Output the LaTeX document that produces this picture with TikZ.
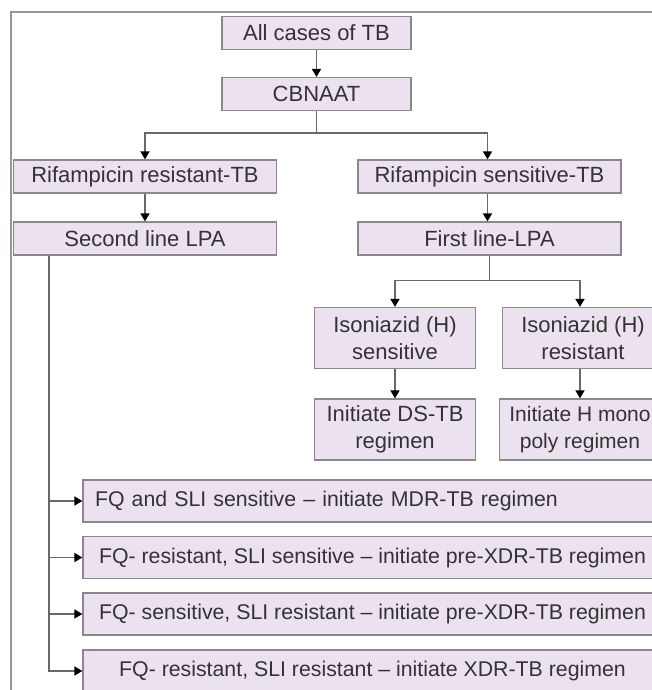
\documentclass[tikz,border=0pt]{standalone}
\usepackage{fontspec}
\setmainfont{Liberation Sans}
\usetikzlibrary{arrows.meta,positioning}
\definecolor{boxfill}{RGB}{236,225,239}
\definecolor{boxline}{RGB}{140,134,142}
\definecolor{wirecol}{RGB}{105,105,105}
\definecolor{framecol}{RGB}{150,150,150}

\begin{document}
\begin{tikzpicture}[x=1pt,y=-1pt,
		box/.style={draw=boxline, line width=1.2pt, fill=boxfill, inner sep=0pt,
			align=center, text=black!80, font=\fontsize{22}{27}\selectfont},
		topbox/.style={box, minimum width=189pt, minimum height=33pt},
		halfbox/.style={box, minimum width=263pt, minimum height=33pt},
		smallbox/.style={box, minimum width=161pt, minimum height=61pt},
		regbox/.style={box, minimum width=579pt, minimum height=42pt, font=\fontsize{21.3}{26}\selectfont},
		wire/.style={draw=wirecol, line width=1.6pt},
		arr/.style={wire, -{Triangle[width=9pt,length=8pt,color=black]}}]
		\useasboundingbox (0,0) rectangle (652,690);
		\clip (0,0) rectangle (652,690);
		% outer frame
		\draw[framecol, line width=1.2pt] (11,695) -- (11,12) -- (660,12);
		% test and first split
		\node[topbox] (all) at (316.5,33) {All cases of TB};
		\node[topbox] (cbnaat) at (316.5,94) {CBNAAT};
		\node[halfbox] (rres) at (145,176.5) {Rifampicin resistant-TB};
		\node[halfbox] (rsen) at (489.5,176.5) {Rifampicin sensitive-TB};
		\node[halfbox] (lpa2) at (145,238.5) {Second line LPA};
		\node[halfbox] (lpa1) at (489.5,238.5) {First line-LPA};
		% isoniazid branch
		\node[smallbox] (ihs) at (395,338) {Isoniazid (H)\\sensitive};
		\node[smallbox] (ihr) at (583,338) {Isoniazid (H)\\resistant};
		\node[smallbox] (dstb) at (395,429.5) {Initiate DS-TB\\regimen};
		\node[smallbox, font=\fontsize{21}{27}\selectfont] (hmono) at (580,429.5) {Initiate H mono\\poly regimen};
		% second line LPA outcomes
		\node[regbox, text width=555pt, inner xsep=12pt, align=left] (fq1) at (372.5,501) {FQ and SLI sensitive -- initiate MDR-TB regimen};
		\node[regbox] (fq2) at (372.5,557.5) {FQ- resistant, SLI sensitive -- initiate pre-XDR-TB regimen};
		\node[regbox] (fq3) at (372.5,614) {FQ- sensitive, SLI resistant -- initiate pre-XDR-TB regimen};
		\node[regbox] (fq4) at (372.5,671) {FQ- resistant, SLI resistant -- initiate XDR-TB regimen};

		\draw[arr] (all) -- (cbnaat);
		\coordinate (split1) at ([yshift=-22pt]cbnaat.south);
		\draw[wire] (cbnaat) -- (split1);
		\draw[arr] (split1) -| (rres.north);
		\draw[arr] (split1) -| ([xshift=-2pt]rsen.north);
		\draw[arr] (rres) -- (lpa2);
		\draw[arr] ([xshift=-2pt]rsen.south) -- ([xshift=-2pt]lpa1.north);

		\coordinate (split2) at ([yshift=-25pt]lpa1.south);
		\draw[wire] (lpa1) -- (split2);
		\draw[arr] (split2) -| (ihs.north);
		\draw[arr] (split2) -| ([xshift=-3pt]ihr.north);
		\draw[arr] (ihs) -- (dstb);
		\draw[arr] ([xshift=-3pt]ihr.south) -- (hmono.north);

		\coordinate (trunk) at ([xshift=36pt]lpa2.south west);
		\foreach \n in {fq1,fq2,fq3,fq4}
			\draw[arr] (trunk) |- (\n.west);
\end{tikzpicture}
\end{document}
